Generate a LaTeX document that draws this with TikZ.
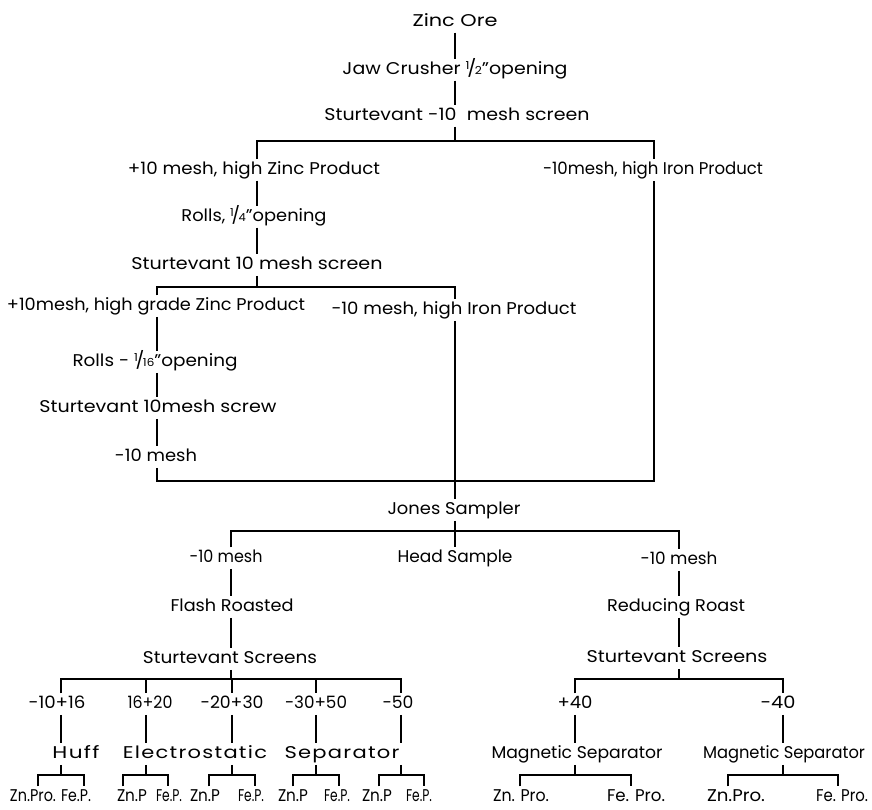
\documentclass[tikz,border=0pt]{standalone}
\usepackage{fontspec}
\setmainfont{Poppins}
\usepackage{graphicx}
\newcommand\fw[2]{\resizebox{#1pt}{\height}{#2}}
\newcommand\vf[2]{\raisebox{0.5ex}{\fontsize{11}{11}\selectfont #1}\kern-0.12em/\kern-0.08em{\fontsize{11}{11}\selectfont #2}}
\newcommand\spaced[1]{{\addfontfeature{LetterSpace=6}#1}}
\begin{document}
\begin{tikzpicture}[x=1pt,y=-1pt,line width=1.3pt,
  lbl/.style={inner sep=0pt,outer sep=3pt,text height=12pt,text depth=3.5pt,font=\fontsize{17}{19}\selectfont},
  sml/.style={lbl,font=\fontsize{17}{19}\selectfont}]
\useasboundingbox (0,0) rectangle (872,810);
% ---- upper part
\node[lbl] (zinc) at (455,22) {\fw{85}{Zinc Ore}};
\node[lbl] (jaw) at (455,70) {\fw{225}{Jaw Crusher \vf{1}{2}"opening}};
\node[lbl] (st1) at (457,116) {\fw{265}{Sturtevant -10\ \ mesh screen}};
\node[lbl] (z1) at (254,170) {\fw{252}{+10 mesh, high Zinc Product}};
\node[lbl] (fe1) at (653,170) {\fw{220}{-10mesh, high Iron Product}};
\node[lbl] (rolls1) at (254,217) {\fw{145}{Rolls, \vf{1}{4}"opening}};
\node[lbl] (st2) at (257,265) {\fw{251}{Sturtevant 10 mesh screen}};
\node[lbl] (z2) at (156,306) {\fw{298}{+10mesh, high grade Zinc Product}};
\node[lbl] (fe2) at (454,310) {\fw{245}{-10 mesh, high Iron Product}};
\node[lbl] (rolls2) at (155,362) {\fw{165}{Rolls - \vf{1}{16}"opening}};
\node[lbl] (st3) at (158,408) {\fw{237}{Sturtevant 10mesh screw}};
\node[lbl] (m10) at (156,457) {\fw{82}{-10 mesh}};
\node[lbl] (jones) at (454,510) {\fw{133}{Jones Sampler}};
\node[lbl] (ma) at (226,558) {\fw{73}{-10 mesh}};
\node[lbl] (head) at (455,558) {\fw{115}{Head Sample}};
\node[lbl] (mb) at (679,560) {\fw{77}{-10 mesh}};
\node[lbl] (flash) at (232,607) {\fw{123}{Flash Roasted}};
\node[lbl] (reduce) at (676,607) {\fw{138}{Reducing Roast}};
\node[lbl] (ss1) at (230,659) {\fw{174}{Sturtevant Screens}};
\node[lbl] (ss2) at (677,658) {\fw{181}{Sturtevant Screens}};
% ---- screen fractions (left)
\node[lbl] (a1) at (57,704) {\fw{57}{-10+16}};
\node[lbl] (a2) at (150,704) {\fw{45}{16+20}};
\node[lbl] (a3) at (232,704) {\fw{63}{-20+30}};
\node[lbl] (a4) at (316,704) {\fw{62}{-30+50}};
\node[lbl] (a5) at (398,704) {\fw{31}{-50}};
\node[lbl] (huff) at (76,754) {\fw{47}{\spaced{Huff}}};
\node[lbl] (elec) at (195,754) {\fw{144}{\spaced{Electrostatic}}};
\node[lbl] (sepr) at (342,754) {\fw{115}{\spaced{Separator}}};
% ---- right side
\node[lbl] (b1) at (575,704) {\fw{35}{+40}};
\node[lbl] (b2) at (778,704) {\fw{35}{-40}};
\node[lbl] (mag1) at (577,754) {\fw{171}{Magnetic Separator}};
\node[lbl] (mag2) at (784,754) {\fw{162}{Magnetic Separator}};
% ---- products
\node[sml] (zp1) at (33,797) {\fw{46}{Zn.Pro.}};
\node[sml] (fp1) at (76,797) {\fw{30}{Fe.P.}};
\node[sml] (zp2) at (132,797) {\fw{30}{Zn.P}};
\node[sml] (fp2) at (169,797) {\fw{26}{Fe.P.}};
\node[sml] (zp3) at (205,797) {\fw{30}{Zn.P}};
\node[sml] (fp3) at (251,797) {\fw{26}{Fe.P.}};
\node[sml] (zp4) at (293,797) {\fw{30}{Zn.P}};
\node[sml] (fp4) at (337,797) {\fw{26}{Fe.P.}};
\node[sml] (zp5) at (377,797) {\fw{30}{Zn.P}};
\node[sml] (fp5) at (419,797) {\fw{26}{Fe.P.}};
\node[sml] (zq1) at (521,797) {\fw{56}{Zn. Pro.}};
\node[sml] (fq1) at (636,797) {\fw{58}{Fe. Pro.}};
\node[sml] (zq2) at (736,797) {\fw{58}{Zn.Pro.}};
\node[sml] (fq2) at (842,797) {\fw{52}{Fe. Pro.}};
% ---- coordinates
\coordinate (t1) at (455,141);
\coordinate (h1L) at (257,141);
\coordinate (h1R) at (654,141);
\coordinate (h2M) at (257,287);
\coordinate (h2L) at (157,287);
\coordinate (h2R) at (455,287);
\coordinate (bL) at (157,481);
\coordinate (bR) at (654,481);
\coordinate (h3M) at (455,531);
\coordinate (h3L) at (231,531);
\coordinate (h3R) at (679,531);
\coordinate (h4M) at (231,679);
\coordinate (k1) at (61,679);
\coordinate (k2) at (146,679);
\coordinate (k3) at (232,679);
\coordinate (k4) at (316,679);
\coordinate (k5) at (401,679);
\coordinate (h5M) at (679,679);
\coordinate (r1) at (575,679);
\coordinate (r2) at (783,679);
% bracket coordinates
\coordinate (q1) at (61,775);  \coordinate (q1l) at (38,775);  \coordinate (q1r) at (84,775);
\coordinate (q2) at (146,775); \coordinate (q2l) at (123,775); \coordinate (q2r) at (168,775);
\coordinate (q3) at (232,775); \coordinate (q3l) at (209,775); \coordinate (q3r) at (255,775);
\coordinate (q4) at (316,775); \coordinate (q4l) at (293,775); \coordinate (q4r) at (339,775);
\coordinate (q5) at (401,775); \coordinate (q5l) at (379,775); \coordinate (q5r) at (424,775);
\coordinate (s1) at (575,775); \coordinate (s1l) at (520,775); \coordinate (s1r) at (631,775);
\coordinate (s2) at (783,775); \coordinate (s2l) at (728,775); \coordinate (s2r) at (838,775);
% ---- connectors, upper
\draw (zinc.south) -- (zinc.south |- jaw.north);
\draw (jaw.south -| t1) -- (t1 |- st1.north);
\draw (st1.south -| t1) -- (t1);
\draw (h1L |- z1.north) -- (h1L) -- (h1R) -- (h1R |- fe1.north);
\draw (z1.south -| h1L) -- (h1L |- rolls1.north);
\draw (rolls1.south -| h1L) -- (h1L |- st2.north);
\draw (st2.south -| h2M) -- (h2M);
\draw (h2L |- z2.north) -- (h2L) -- (h2R) -- (h2R |- fe2.north);
\draw (z2.south -| h2L) -- (h2L |- rolls2.north);
\draw (rolls2.south -| h2L) -- (h2L |- st3.north);
\draw (st3.south -| h2L) -- (h2L |- m10.north);
\draw (m10.south -| bL) -- (bL) -- (bR) -- (bR |- fe1.south);
\draw (fe2.south -| h2R) -- (h2R |- jones.north);
\draw (jones.south -| h3M) -- (h3M |- head.north);
\draw (h3L |- ma.north) -- (h3L) -- (h3R) -- (h3R |- mb.north);
% ---- left roast branch
\draw (ma.south -| h3L) -- (h3L |- flash.north);
\draw (flash.south -| h3L) -- (h3L |- ss1.north);
\draw (ss1.south -| h4M) -- (h4M);
\draw (k1 |- a1.north) -- (k1) -- (k5) -- (k5 |- a5.north);
\draw (k2) -- (k2 |- a2.north);
\draw (k3) -- (k3 |- a3.north);
\draw (k4) -- (k4 |- a4.north);
\draw (a1.south -| k1) -- (k1 |- huff.north);
\draw (a2.south -| k2) -- (k2 |- elec.north);
\draw (a3.south -| k3) -- (k3 |- elec.north);
\draw (a4.south -| k4) -- (k4 |- sepr.north);
\draw (a5.south -| k5) -- (k5 |- sepr.north);
\draw (k1 |- huff.south) -- (q1);
\draw (k2 |- elec.south) -- (q2);
\draw (k3 |- elec.south) -- (q3);
\draw (k4 |- sepr.south) -- (q4);
\draw (k5 |- sepr.south) -- (q5);
\draw (q1l |- zp1.north) -- (q1l) -- (q1r) -- (q1r |- fp1.north);
\draw (q2l |- zp2.north) -- (q2l) -- (q2r) -- (q2r |- fp2.north);
\draw (q3l |- zp3.north) -- (q3l) -- (q3r) -- (q3r |- fp3.north);
\draw (q4l |- zp4.north) -- (q4l) -- (q4r) -- (q4r |- fp4.north);
\draw (q5l |- zp5.north) -- (q5l) -- (q5r) -- (q5r |- fp5.north);
% ---- right roast branch
\draw (mb.south -| h3R) -- (h3R |- reduce.north);
\draw (reduce.south -| h3R) -- (h3R |- ss2.north);
\draw (ss2.south -| h5M) -- (h5M);
\draw (r1 |- b1.north) -- (r1) -- (r2) -- (r2 |- b2.north);
\draw (b1.south -| r1) -- (r1 |- mag1.north);
\draw (b2.south -| r2) -- (r2 |- mag2.north);
\draw (r1 |- mag1.south) -- (s1);
\draw (r2 |- mag2.south) -- (s2);
\draw (s1l |- zq1.north) -- (s1l) -- (s1r) -- (s1r |- fq1.north);
\draw (s2l |- zq2.north) -- (s2l) -- (s2r) -- (s2r |- fq2.north);
\end{tikzpicture}
\end{document}
